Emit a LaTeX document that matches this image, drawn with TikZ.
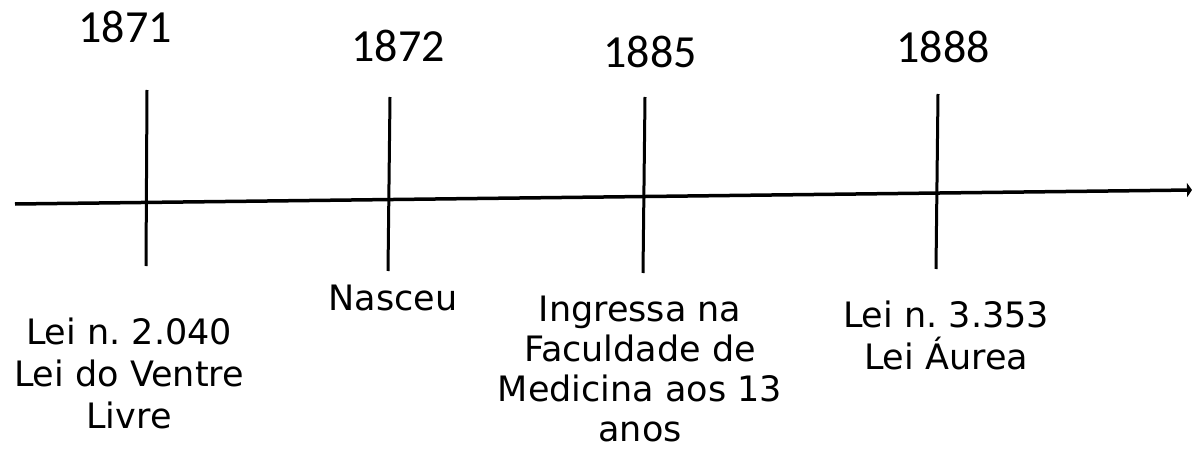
\documentclass[tikz,border=0pt]{standalone}
\usepackage{fontspec}
\setmainfont{DejaVu Sans}
\newfontfamily\yearfont{Carlito}
\usetikzlibrary{arrows.meta}
\tikzset{
  axisline/.style={line width=3.5pt,-{Triangle[length=5pt,width=14pt]}},
  tickline/.style={line width=3pt},
  yearlbl/.style={font=\yearfont\fontsize{46}{50}\selectfont,inner sep=0pt,anchor=base},
  evlbl/.style={font=\frenchspacing\fontsize{35}{42}\selectfont,inner sep=0pt,align=center,anchor=north},
}
\begin{document}
\begin{tikzpicture}[x=1pt,y=-1pt]
\useasboundingbox (0,0) rectangle (1192,452);
% axis
\coordinate (axL) at (15,204);
\coordinate (axR) at (1192,190);
\draw[axisline] (axL) -- (axR);
% ticks
\coordinate (t1a) at (147,90);  \coordinate (t1b) at (146,266);
\coordinate (t2a) at (390,97);  \coordinate (t2b) at (388,271);
\coordinate (t3a) at (645,97);  \coordinate (t3b) at (643,273);
\coordinate (t4a) at (938,94);  \coordinate (t4b) at (936,269);
\draw[tickline] (t1a) -- (t1b);
\draw[tickline] (t2a) -- (t2b);
\draw[tickline] (t3a) -- (t3b);
\draw[tickline] (t4a) -- (t4b);
% years
\node[yearlbl] (y1) at (125,43) {1871};
\node[yearlbl] (y2) at (398,62) {1872};
\node[yearlbl] (y3) at (650,68) {1885};
\node[yearlbl] (y4) at (943,63) {1888};
% events
\node[evlbl] (e1) at (129,318) {Lei n. 2.040\\Lei do Ventre\\Livre};
\node[evlbl] (e2) at (393,284.5) {Nasceu};
\node[evlbl,font=\frenchspacing\fontsize{35}{40}\selectfont] (e3) at (640,296) {Ingressa na\\Faculdade de\\Medicina aos 13\\anos};
\node[evlbl] (e4) at (946,301) {Lei n. 3.353\\Lei Áurea};
\end{tikzpicture}
\end{document}
